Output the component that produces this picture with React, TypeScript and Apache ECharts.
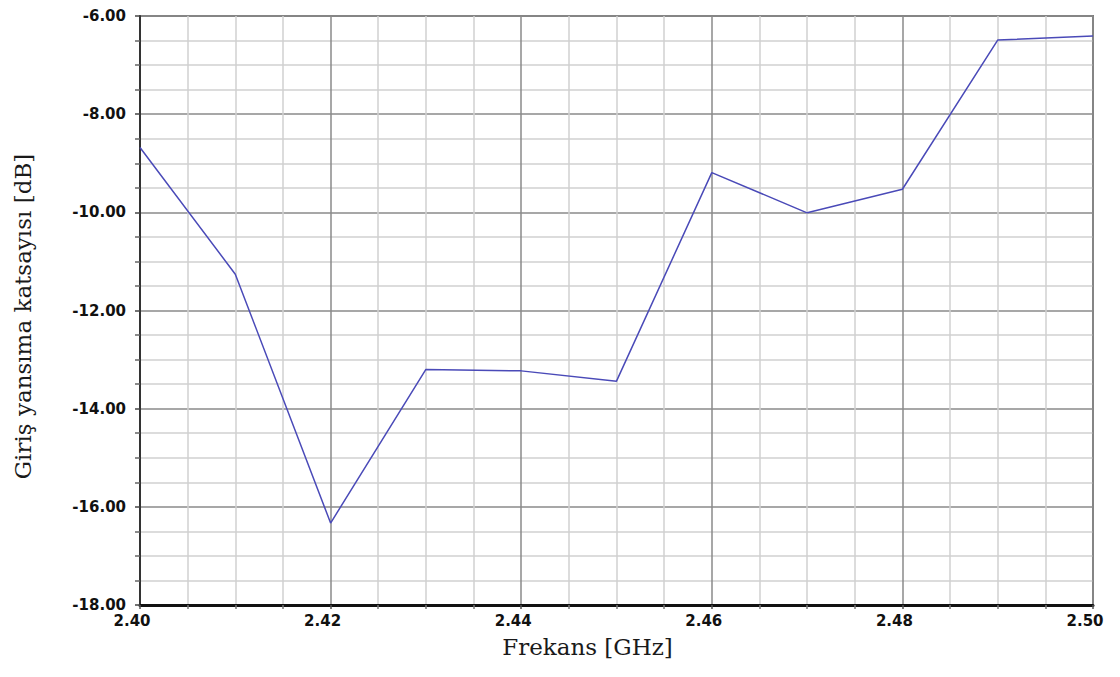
import React, { useEffect, useRef } from "react";
import * as echarts from "echarts";

const freqs = [2.4, 2.41, 2.42, 2.43, 2.44, 2.45, 2.46, 2.47, 2.48, 2.49, 2.5];
const s11 = [-8.68, -11.26, -16.33, -13.2, -13.23, -13.44, -9.19, -10.01, -9.53, -6.49, -6.41];
const xName = "Frekans [GHz]";
const yName = "Giriş yansıma katsayısı [dB]";

export default function App() {
  const ref = useRef<HTMLDivElement>(null);
  useEffect(() => {
    if (!ref.current) return;
    const chart = echarts.init(ref.current, undefined, { renderer: "svg" });
    const labelStyle = {
      fontFamily: "DejaVu Sans",
      fontWeight: "bold" as const,
      fontSize: 15,
      color: "#111",
    };
    chart.setOption({
      animation: false,
      backgroundColor: "#ffffff",
      grid: {
        left: 140,
        right: 27,
        top: 16,
        bottom: 72,
        show: true,
        borderColor: "#7a7a7a",
        borderWidth: 2,
        backgroundColor: "transparent",
      },
      xAxis: {
        type: "value",
        min: 2.4,
        max: 2.5,
        interval: 0.02,
        name: xName,
        nameLocation: "middle",
        nameGap: 30,
        nameTextStyle: {
          fontFamily: "DejaVu Serif",
          fontSize: 23,
          color: "#1a1a1a",
          padding: [0, 58, 0, 0],
        },
        axisLine: { show: true, onZero: false, lineStyle: { color: "#111", width: 3 } },
        axisTick: { show: true, length: 4, lineStyle: { color: "#555", width: 1.5 } },
        minorTick: { show: true, splitNumber: 4, length: 4, lineStyle: { color: "#777", width: 1.5 } },
        axisLabel: {
          ...labelStyle,
          margin: 8,
          padding: [0, 16, 0, 0],
          formatter: (v: number) => v.toFixed(2),
        },
        splitLine: { show: true, lineStyle: { color: "#8a8a8a", width: 1.5 } },
        minorSplitLine: { show: true, lineStyle: { color: "#d0d0d0", width: 1.5 } },
      },
      yAxis: {
        type: "value",
        min: -18,
        max: -6,
        interval: 2,
        name: yName,
        nameLocation: "middle",
        nameGap: 106,
        nameTextStyle: {
          fontFamily: "DejaVu Serif",
          fontSize: 23,
          color: "#1a1a1a",
          padding: [0, 12, 0, 0],
        },
        axisLine: { show: true, onZero: false, lineStyle: { color: "#333", width: 2 } },
        axisTick: { show: true, length: 5, lineStyle: { color: "#444", width: 1.5 } },
        minorTick: { show: true, splitNumber: 4, length: 5, lineStyle: { color: "#666", width: 1.5 } },
        axisLabel: {
          ...labelStyle,
          margin: 14,
          formatter: (v: number) => v.toFixed(2),
        },
        splitLine: { show: true, lineStyle: { color: "#8a8a8a", width: 1.5 } },
        minorSplitLine: { show: true, lineStyle: { color: "#d0d0d0", width: 1.5 } },
      },
      series: [
        {
          type: "line",
          data: freqs.map((f, i) => [f, s11[i]]),
          symbol: "none",
          lineStyle: { color: "#4a4ab8", width: 1.5 },
          itemStyle: { color: "#4a4ab8" },
        },
      ],
    });
    return () => chart.dispose();
  }, []);
  return (
    <div
      ref={ref}
      style={{ position: "fixed", left: 0, top: 0, width: 1120, height: 677 }}
    />
  );
}
